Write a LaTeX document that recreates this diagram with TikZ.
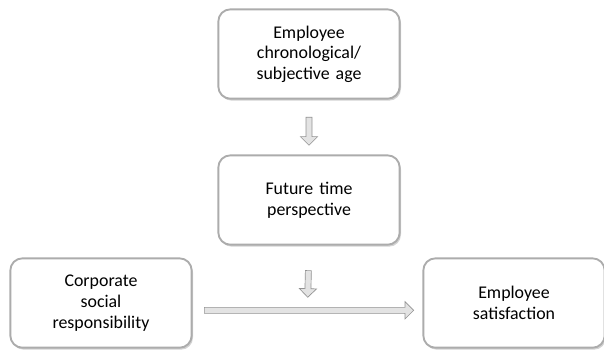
\documentclass[tikz,border=0pt]{standalone}
\usepackage{fontspec}
\setmainfont{Carlito}
\usetikzlibrary{shapes.arrows,shadows}
\tikzset{>=latex}
\colorlet{boxcol}{gray!65}
\tikzset{factor/.style={draw=boxcol, line width=1.4pt, fill=white, rounded corners=9pt,
    minimum width=136pt, minimum height=67pt, text width=110pt, align=center,
    font=\fontsize{13.4}{15.5}\selectfont,
    drop shadow={shadow xshift=1pt, shadow yshift=-1.5pt, opacity=0.35, fill=gray}}}
\tikzset{fatarrow/.style={single arrow, draw=gray!85, fill=gray!22, line width=0.5pt,
    inner sep=2pt, single arrow head extend=4.2pt, single arrow head indent=0pt,
    sloped, allow upside down}}

\begin{document}
\begin{tikzpicture}[x=0.75pt, y=-0.75pt]
                \useasboundingbox (0,0) rectangle (604,355);
                % Nodes
                \node [factor] (age) at (309,54) {Employee chronological/ subjective age};
                \node [factor] (ftp) at (309,200) {Future time perspective};
                \node [factor] (csr) at (101,303) {Corporate\\ social\\ responsibility};
                \node [factor] (es) at (514,303) {Employee\\ satisfaction};
                
                % Arrows
                \path (csr.east) -- node[fatarrow, minimum height=157pt, yshift=-5.5pt] (csr2es) {} (es.west);
                \path (age.south) -- node[fatarrow, minimum height=21pt, pos=0.55] (age2ftp) {} (ftp.north);
                \path (ftp.south) -- node[fatarrow, minimum height=20pt, pos=0.6] (ftp2csr) {} (csr2es.north);
            \end{tikzpicture}
\end{document}
